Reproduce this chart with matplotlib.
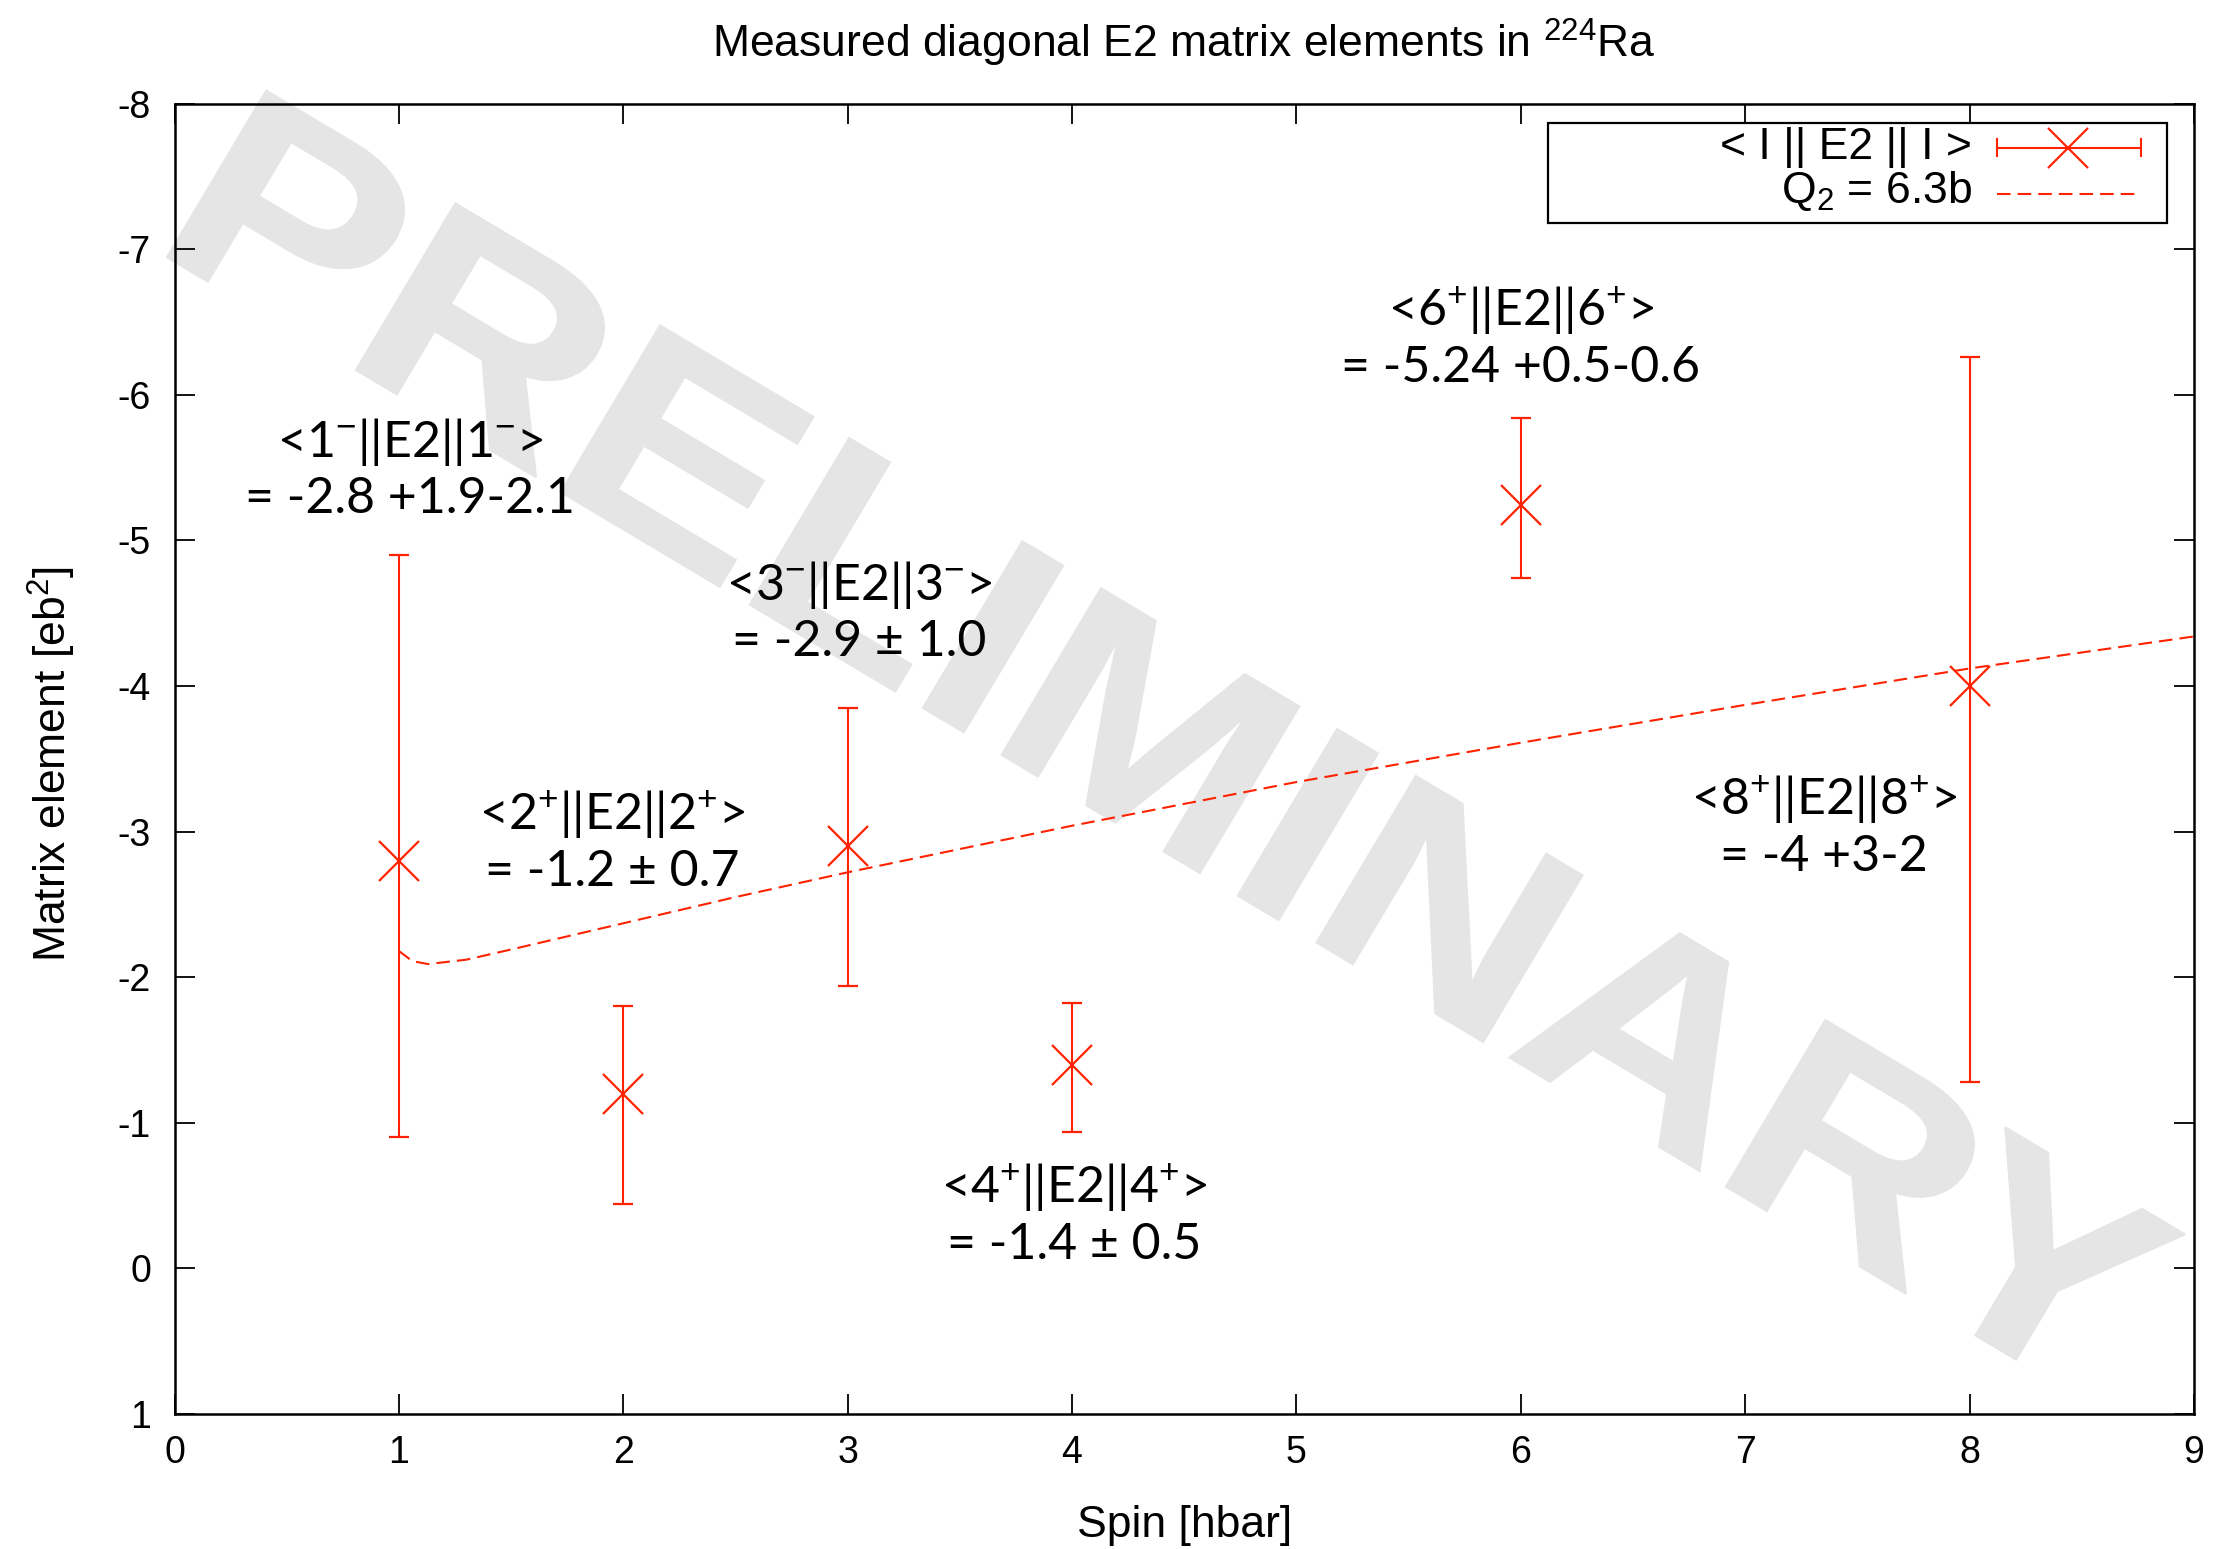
import matplotlib
matplotlib.use("Agg")
import matplotlib.pyplot as plt
from matplotlib.textpath import TextPath
from matplotlib.font_manager import FontProperties
from matplotlib.patches import PathPatch, Rectangle
from matplotlib.transforms import Affine2D, IdentityTransform
from matplotlib.lines import Line2D

plt.rcParams["font.family"] = ["Liberation Sans", "DejaVu Sans"]
plt.rcParams["axes.unicode_minus"] = False
plt.rcParams["mathtext.fontset"] = "custom"
plt.rcParams["mathtext.rm"] = "Liberation Sans"
plt.rcParams["mathtext.it"] = "Liberation Sans:italic"
plt.rcParams["mathtext.bf"] = "Liberation Sans:bold"

# ---- data -------------------------------------------------------------
spins = [1, 2, 3, 4, 6, 8]
me_values = [-2.8, -1.2, -2.9, -1.4, -5.24, -4.0]
err_more_neg = [2.1, 0.6, 0.95, 0.42, 0.6, 2.26]   # towards larger |ME|
err_less_neg = [1.9, 0.76, 0.96, 0.46, 0.5, 2.72]  # towards zero

# rotor curve, Q2 = 6.3 b
rotor_spin = [1.0, 1.06, 1.13, 1.3, 1.5, 2.0, 2.5, 3.0, 3.5, 4.0, 5.0, 6.0, 7.0, 8.0, 9.0]
rotor_me = [-2.18, -2.11, -2.09, -2.12, -2.19, -2.37, -2.55, -2.72, -2.88,
            -3.04, -3.34, -3.61, -3.87, -4.12, -4.34]

labels = [
    "<1$^{-}$||E2||1$^{-}$>\n= -2.8 +1.9-2.1",
    "<2$^{+}$||E2||2$^{+}$>\n= -1.2 \u00b1 0.7",
    "<3$^{-}$||E2||3$^{-}$>\n= -2.9 \u00b1 1.0",
    "<4$^{+}$||E2||4$^{+}$>\n= -1.4 \u00b1 0.5",
    "<6$^{+}$||E2||6$^{+}$>\n= -5.24 +0.5-0.6",
    "<8$^{+}$||E2||8$^{+}$>\n= -4 +3-2",
]
label_x = [1.05, 1.95, 3.05, 4.01, 6.0, 7.35]
label_y = [-5.49, -2.93, -4.51, -0.37, -6.39, -3.03]

xticks = list(range(0, 10))
yticks = list(range(-8, 2))

RED = "#ff2200"
W, H = 2224, 1549

fig = plt.figure(figsize=(W / 100, H / 100), dpi=100)
ax = fig.add_axes([174.5 / W, 1 - 1414 / H, (2194 - 174.5) / W, (1414 - 103.5) / H])
ax.set_xlim(0, 9)
ax.set_ylim(1, -8)

# watermark
fp = FontProperties(family="Liberation Sans", weight="bold")
tp = TextPath((0, 0), "PRELIMINARY", size=1, prop=fp)
tr = Affine2D().scale(330, 282).rotate_deg(-30.8).translate(148, H - 246.0)
wm = PathPatch(tr.transform_path(tp), transform=IdentityTransform(),
               facecolor="#e5e5e5", edgecolor="#e5e5e5", lw=1.5,
               zorder=0.5, clip_on=False)
ax.add_artist(wm)

# rotor curve
ax.plot(rotor_spin, rotor_me, color=RED, lw=1.5, dashes=(6.5, 3.4), zorder=2)

# measured matrix elements
ax.errorbar(spins, me_values, yerr=[err_more_neg, err_less_neg], fmt="x",
            ms=29, mew=1.6, color=RED, ecolor=RED, elinewidth=1.5,
            capsize=7.2, capthick=1.5, zorder=3)

for txt, lx, ly in zip(labels, label_x, label_y):
    ax.text(lx, ly, txt, ha="center", va="center", multialignment="center",
            fontsize=36, family=["Lato", "DejaVu Sans"], linespacing=1.22, zorder=4)

# axes styling
ax.set_xticks(xticks)
ax.set_yticks(yticks)
ax.tick_params(direction="in", length=14.4, width=1.3, labelsize=27,
               top=True, right=True)
ax.tick_params(axis="y", pad=17)
ax.tick_params(axis="x", pad=15)
for sp in ax.spines.values():
    sp.set_linewidth(1.8)

# legend box
ax.add_patch(Rectangle((0.680, 0.909), 0.9866 - 0.680, 0.9848 - 0.909,
                       transform=ax.transAxes, facecolor="white",
                       edgecolor="black", lw=1.6, zorder=5))
ax.text(0.8899, 0.9573, "< I || E2 || I >", transform=ax.transAxes,
        ha="right", va="baseline", fontsize=32, zorder=6)
ax.text(0.8899, 0.9237, "Q$_2$ = 6.3b", transform=ax.transAxes,
        ha="right", va="baseline", fontsize=32, zorder=6)
row1 = 0.9664
ax.add_line(Line2D([0.9025, 0.974], [row1, row1], transform=ax.transAxes,
                   color=RED, lw=1.5, zorder=6))
cap = 0.0068
for cx in (0.9025, 0.974):
    ax.add_line(Line2D([cx, cx], [row1 - cap, row1 + cap], transform=ax.transAxes,
                       color=RED, lw=1.5, zorder=6))
ax.add_line(Line2D([0.9376], [row1], transform=ax.transAxes, marker="x",
                   ms=29, mew=1.6, color=RED, zorder=6))
row2 = 0.9307
ax.add_line(Line2D([0.9025, 0.974], [row2, row2], transform=ax.transAxes,
                   color=RED, lw=1.5, dashes=(6.5, 3.4), zorder=6))

# titles
xc = (174.5 + 2194) / 2 / W
fig.text(xc, 1 - 58 / H, "Measured diagonal E2 matrix elements in $^{224}$Ra",
         ha="center", va="baseline", fontsize=32)
fig.text(xc, 1 - 1537 / H, "Spin [hbar]", ha="center", va="baseline", fontsize=32)
fig.text(52 / W, 0.507, "Matrix element [eb$^2$]", rotation=90,
         ha="center", va="center", fontsize=32)

fig.savefig("out.png", dpi=100)
